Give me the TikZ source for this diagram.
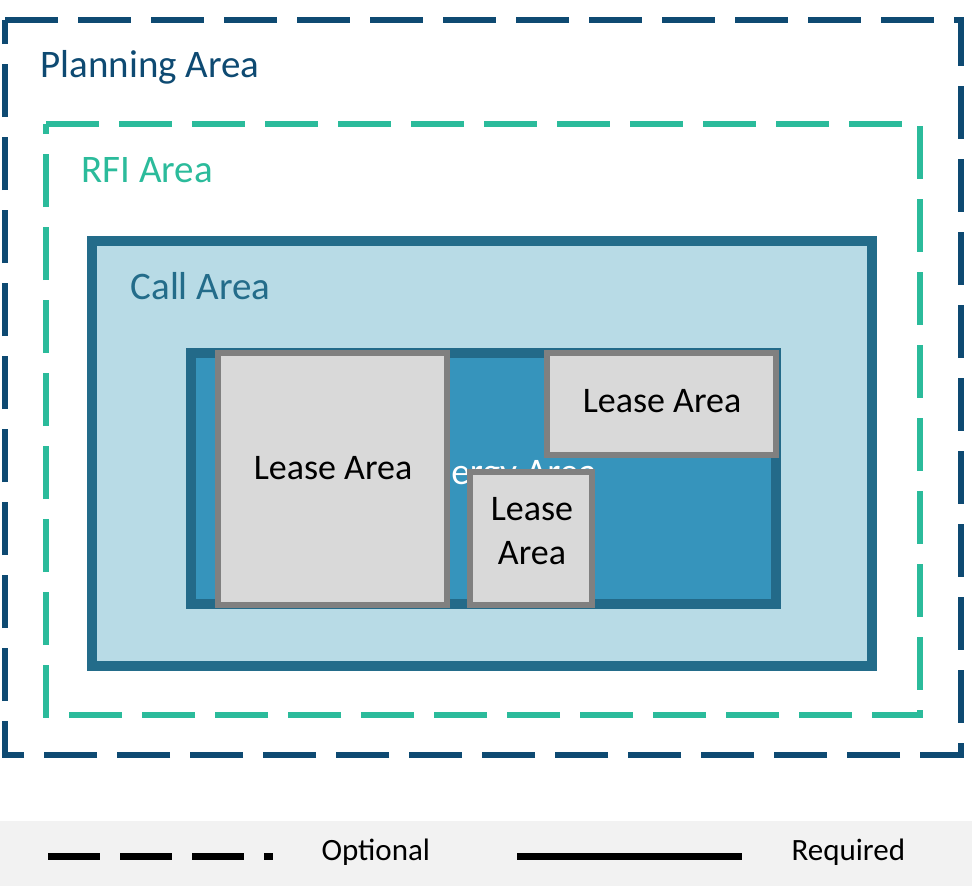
\documentclass[tikz,border=0pt]{standalone}
\usepackage{fontspec}
\setmainfont{Carlito}
\definecolor{planblue}{HTML}{0E4A72}
\definecolor{rfigreen}{HTML}{2BBB9B}
\definecolor{callfill}{HTML}{B8DBE6}
\definecolor{calledge}{HTML}{236C8A}
\definecolor{windfill}{HTML}{3694BC}
\definecolor{windedge}{HTML}{236A89}
\definecolor{leasefill}{HTML}{D9D9D9}
\definecolor{leaseedge}{HTML}{808080}
\definecolor{legendgray}{HTML}{F2F2F2}
\tikzset{
  optline/.style={line width=6pt, dash pattern=on 53pt off 20pt},
  leasebox/.style={draw=leaseedge, fill=leasefill, line width=6pt},
  bigtext/.style={font=\fontsize{39}{47}\selectfont},
  leasetext/.style={font=\fontsize{36}{44}\selectfont, align=center},
  legtext/.style={font=\fontsize{31}{37}\selectfont, anchor=base west}
}

\begin{document}
\begin{tikzpicture}[x=1pt, y=-1pt]
		\useasboundingbox (0,0) rectangle (972,886);
		%%%%% START %%%%%
		% optional areas
		\draw[planblue, optline] (5,20) -- (961,20) -- (961,755) -- (5,755) -- cycle;
		\node[bigtext, text=planblue, anchor=base west] (planlbl) at (37,77) {Planning Area};
		
		\draw[rfigreen, optline] (46,124) -- (920,124) -- (920,715) -- (46,715) -- cycle;
		\node[bigtext, text=rfigreen, anchor=base west] (rfilbl) at (78,182) {RFI Area};
		
		% required areas
		\draw[draw=calledge, fill=callfill, line width=10pt] (92,241) rectangle (872,666);
		\node[bigtext, text=calledge, anchor=base west] (calllbl) at (127,299) {Call Area};
		
		\draw[draw=windedge, fill=windfill, line width=9.5pt] (191,353) rectangle (776,604);
		\node[font=\fontsize{37.5}{45}\selectfont, text=white, anchor=base] (windlbl) at (460,484) {Wind Energy Area};
		
		\draw[leasebox] (218,353) rectangle (447,605);
		\node[leasetext] (lease1) at (333,468) {Lease Area};
		
		\draw[leasebox] (470,472) rectangle (592,605);
		\node[leasetext] (lease3) at (532,531) {Lease\\Area};
		
		\draw[leasebox] (547,353) rectangle (776,455);
		\node[leasetext] (lease2) at (662,401) {Lease Area};
		
		% legend
		\fill[legendgray] (0,821) rectangle (972,886);
		\draw[line width=7pt, dash pattern=on 52pt off 20pt] (48,856) -- (273,856);
		\node[legtext] (optlbl) at (318,860) {Optional};
		\draw[line width=7pt] (517,856) -- (742,856);
		\node[legtext] (reqlbl) at (788,860) {Required};
		%%%%% END %%%%%
	\end{tikzpicture}
\end{document}
